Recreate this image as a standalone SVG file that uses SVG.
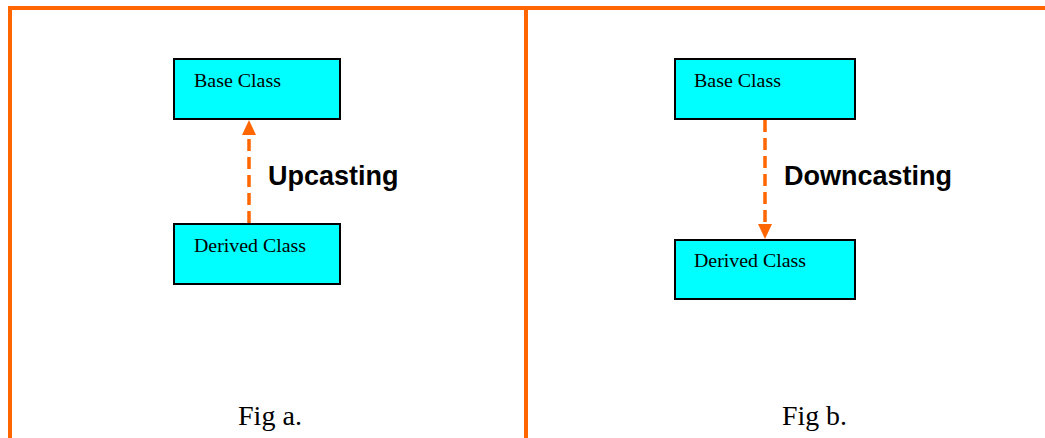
<svg xmlns="http://www.w3.org/2000/svg" width="1045" height="438" viewBox="0 0 1045 438">
<style>
.frame{stroke:#FF6600;stroke-width:4;fill:none}
.box{fill:#00FFFF;stroke:#000;stroke-width:2}
.lbl{font-family:"Liberation Serif","Times New Roman",serif;font-size:18px;fill:#000}
.conn{stroke:#FF6600;stroke-width:3.5;stroke-dasharray:12,6;fill:none}
.head{fill:#FF6600}
.big{font-family:"Liberation Sans",Arial,sans-serif;font-weight:bold;font-size:27px;fill:#000}
.cap{font-family:"Liberation Serif","Times New Roman",serif;font-size:27px;fill:#000}
</style>
<rect width="1045" height="438" fill="#fff"/>
<g id="frame">
<line class="frame" x1="8" y1="8" x2="1045" y2="8"/>
<line class="frame" x1="10" y1="6" x2="10" y2="438"/>
<line class="frame" x1="526" y1="8" x2="526" y2="438"/>
</g>
<g id="connectors">
<line class="conn" x1="249" y1="223" x2="249" y2="134"/>
<polygon class="head" points="249,120 242,135 256,135"/>
<line class="conn" x1="765" y1="120" x2="765" y2="225"/>
<polygon class="head" points="765,239 758,224 772,224"/>
</g>
<g id="a-base">
<rect class="box" x="174" y="59" width="166" height="60"/>
<text class="lbl" x="194" y="87" textLength="87" lengthAdjust="spacingAndGlyphs">Base Class</text>
</g>
<g id="a-derived">
<rect class="box" x="174" y="224" width="166" height="60"/>
<text class="lbl" x="194" y="252" textLength="112" lengthAdjust="spacingAndGlyphs">Derived Class</text>
</g>
<g id="b-base">
<rect class="box" x="675" y="59" width="180" height="60"/>
<text class="lbl" x="694" y="87" textLength="87" lengthAdjust="spacingAndGlyphs">Base Class</text>
</g>
<g id="b-derived">
<rect class="box" x="675" y="240" width="180" height="59"/>
<text class="lbl" x="694" y="267" textLength="112" lengthAdjust="spacingAndGlyphs">Derived Class</text>
</g>
<g id="labels">
<text class="big" x="268" y="185">Upcasting</text>
<text class="big" x="784" y="185">Downcasting</text>
<text class="cap" x="238" y="425" textLength="64" lengthAdjust="spacingAndGlyphs">Fig a.</text>
<text class="cap" x="782" y="425" textLength="65" lengthAdjust="spacingAndGlyphs">Fig b.</text>
</g>
</svg>
